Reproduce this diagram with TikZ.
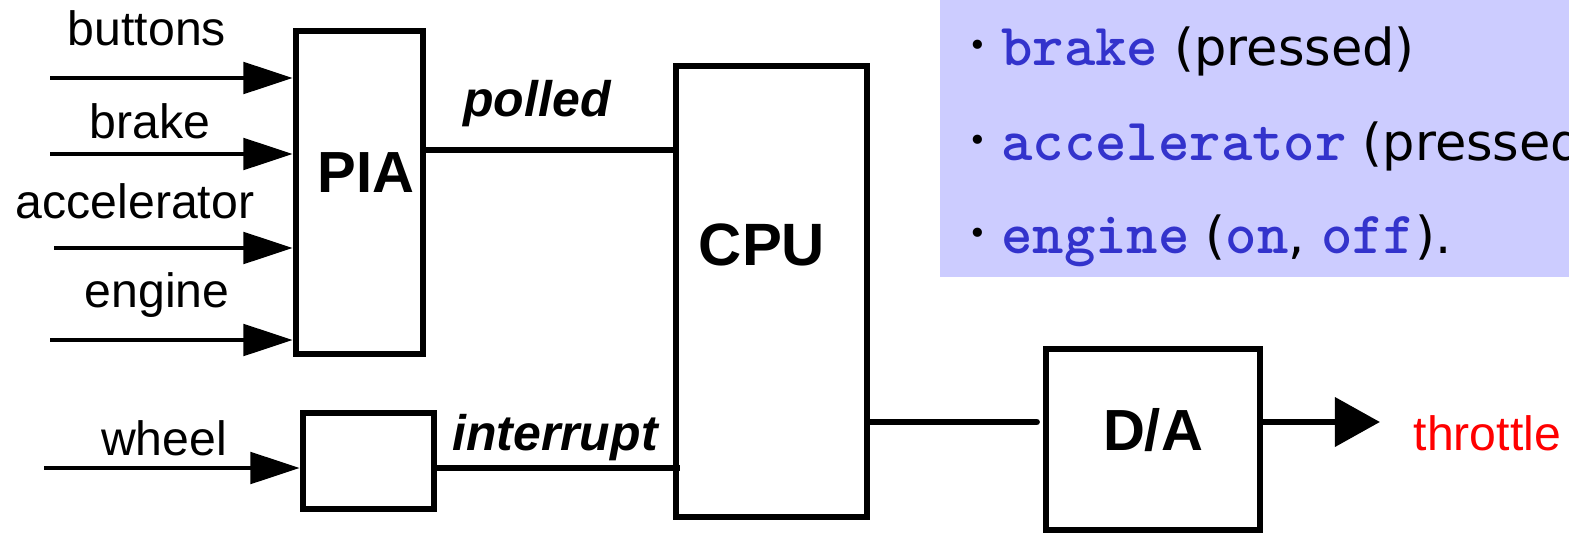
\documentclass[tikz,border=0pt]{standalone}
\usepackage{fontspec}
\setmainfont{Liberation Sans}
\newfontfamily\codefont{lmmonolt10-bold.otf}
\newfontfamily\handfont{DejaVu Sans}
\usetikzlibrary{arrows.meta}
\definecolor{panelblue}{RGB}{204,204,255}
\definecolor{codeblue}{RGB}{51,51,204}
\definecolor{throttlered}{RGB}{255,0,0}
\newcommand{\code}[1]{\textcolor{codeblue}{\codefont\fontsize{17}{20}\selectfont #1}}
\newcommand{\itembullet}{\raisebox{2.5pt}{\fontsize{9}{9}\selectfont •}\hspace{4pt}}

\begin{document}
\begin{tikzpicture}[x=0.01cm, y=-0.01cm,
  box/.style={rectangle, draw=black, line width=1.9pt, inner sep=0pt},
  boxtext/.style={font=\fontsize{16.5}{20}\selectfont\bfseries, anchor=base, inner sep=0pt},
  sig/.style={font=\fontsize{13.7}{16}\selectfont, anchor=base, inner sep=0pt},
  bus/.style={font=\fontsize{14.2}{17}\selectfont\bfseries\itshape, anchor=base, inner sep=0pt},
  inarrow/.style={line width=0.9pt, -{Triangle[length=14pt,width=9pt]}},
  wire/.style={line width=1.9pt},
  item/.style={anchor=base west, inner sep=0pt, font=\handfont\fontsize{14.5}{17}\selectfont},]
  \useasboundingbox (0,0) rectangle (1569,533);
  \clip (0,0) rectangle (1569,533);
  \fill[panelblue] (940,0) rectangle (1569,277);

  \node[box, minimum width=1.27cm, minimum height=3.23cm] (PIA) at (359.5,192.5) {};
  \node[box, minimum width=1.31cm, minimum height=0.96cm] (IRQ) at (368.5,461) {};
  \node[box, minimum width=1.91cm, minimum height=4.51cm] (CPU) at (771.5,291.5) {};
  \node[box, minimum width=2.14cm, minimum height=1.81cm] (DA) at (1153,439.5) {};

  \node[boxtext] (PIA-t) at (366,192) {PIA};
  \node[boxtext, font=\fontsize{17}{20}\selectfont\bfseries] (CPU-t) at (762,265) {CPU};
  \node[boxtext] (DA-t) at (1153,450) {D/A};

  \coordinate (btn) at (50,78);
  \coordinate (brk) at (50,154);
  \coordinate (acc) at (54,248);
  \coordinate (eng) at (50,340);
  \coordinate (whl) at (44,468);
  \coordinate (pol) at (500,150);
  \coordinate (out) at (1100,422);

  \node[sig] (btn-l) at (147,45) {buttons};
  \node[sig] (brk-l) at (150,138) {brake};
  \node[sig] (acc-l) at (135,218) {accelerator};
  \node[sig] (eng-l) at (157,307) {engine};
  \node[sig] (whl-l) at (164,455) {wheel};
  \node[bus] (pol-l) at (537,116) {polled};
  \node[bus] (irq-l) at (555,450) {interrupt};
  \node[sig, anchor=base west, text=throttlered] (thr) at (1413,450) {throttle};

  \draw[inarrow] (btn) -- (btn -| PIA.west);
  \draw[inarrow] (brk) -- (brk -| PIA.west);
  \draw[inarrow] (acc) -- (acc -| PIA.west);
  \draw[inarrow] (eng) -- (eng -| PIA.west);
  \draw[inarrow] (whl) -- (whl -| IRQ.west);

  \draw[wire] (pol -| PIA.east) -- (pol -| CPU.west);
  \draw[wire] (whl -| IRQ.east) -- ([xshift=0.07cm]whl -| CPU.west);
  \draw[wire, line cap=round] (out -| CPU.east) -- ([xshift=-0.06cm]out -| DA.west);
  \draw[wire, line cap=round, -{Triangle[length=12.8pt,width=13.7pt]}, shorten >=0.33cm] (out -| DA.east) -- (out -| thr.west);

  \node[item] (it1) at (968,65) {\itembullet\code{brake} (pressed)};
  \node[item] (it2) at (968,160) {\itembullet\code{accelerator} (pressed)};
  \node[item] (it3) at (968,253) {\itembullet\code{engine} (\code{on}, \code{off}).};
\end{tikzpicture}
\end{document}
